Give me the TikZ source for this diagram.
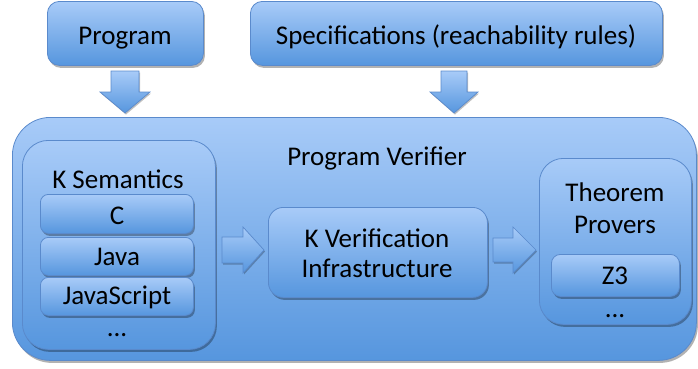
\documentclass[tikz,border=0pt]{standalone}
\usepackage{fontspec}
\setmainfont{Carlito}
\usetikzlibrary{shadows}
\definecolor{btop}{RGB}{168,203,248}
\definecolor{bbot}{RGB}{86,150,222}
\definecolor{bline}{RGB}{90,138,204}
\tikzset{
  box/.style={draw=bline, line width=0.8pt, top color=btop, bottom color=bbot,
    rounded corners=#1, inner sep=0pt, anchor=north west,
    drop shadow={shadow xshift=1.5pt, shadow yshift=-2.5pt, opacity=0.3, fill=black}},
  box/.default=10pt,
  txt/.style={font=\fontsize{27}{32}\selectfont, text=black, anchor=base, inner sep=0pt},
  blockarrow/.style={draw=bline, line width=0.7pt, top color=btop, bottom color=bbot,
    line join=miter,
    drop shadow={shadow xshift=1pt, shadow yshift=-1.5pt, opacity=0.25, fill=black}}
}
\begin{document}
\begin{tikzpicture}[x=1pt,y=-1pt]
\useasboundingbox (0,0) rectangle (698,368);
% top boxes
\node[box=12pt, minimum width=156pt, minimum height=64pt] (prog) at (47,1) {};
\node[txt] (progt) at (125,44.5) {Program};
\node[box=12pt, minimum width=412pt, minimum height=64pt] (spec) at (250,1) {};
\node[txt] (spect) at (456,44.5) {Specifications (reachability rules)};
% down arrows
\path[blockarrow] (111,71) -- (139,71) -- (139,92) -- (150,92) -- (125,113) -- (100,92) -- (111,92) -- cycle;
\path[blockarrow] (441,71) -- (467,71) -- (467,92) -- (478,92) -- (454,113) -- (430,92) -- (441,92) -- cycle;
% big box
\node[box=38pt, minimum width=684pt, minimum height=243pt] (pv) at (12,117) {};
\node[txt] (pvt) at (377,165) {Program Verifier};
% K semantics
\node[box=26pt, minimum width=193pt, minimum height=209pt] (ks) at (22,140) {};
\node[txt] (kst) at (118,188) {K Semantics};
\node[box=8pt, minimum width=153pt, minimum height=39pt] (c) at (40,194) {};
\node[txt] (ct) at (117,224) {C};
\node[box=8pt, minimum width=153pt, minimum height=38pt] (java) at (40,237) {};
\node[txt] (javat) at (117,265) {Java};
\node[box=8pt, minimum width=153pt, minimum height=38pt] (js) at (40,277) {};
\node[txt] (jst) at (117,304) {JavaScript};
\node[txt] (ksdots) at (117,336) {...};
% arrow 1
\path[blockarrow] (222,237) -- (243,237) -- (243,227) -- (264,250) -- (243,273) -- (243,263) -- (222,263) -- cycle;
% K verification
\node[box=15pt, minimum width=219pt, minimum height=90pt] (kv) at (268,207) {};
\node[txt] (kvt1) at (377,247) {K Verification};
\node[txt] (kvt2) at (377,277) {Infrastructure};
% arrow 2
\path[blockarrow] (493,238) -- (513,238) -- (513,227) -- (536,250) -- (513,273) -- (513,262) -- (493,262) -- cycle;
% theorem provers
\node[box=24pt, minimum width=152pt, minimum height=166pt] (tp) at (539,158) {};
\node[txt] (tpt1) at (615,201) {Theorem};
\node[txt] (tpt2) at (615,233) {Provers};
\node[box=9pt, minimum width=128pt, minimum height=42pt] (z3) at (551,254) {};
\node[txt] (z3t) at (615,284) {Z3};
\node[txt] (tpdots) at (615,317) {...};
\end{tikzpicture}
\end{document}
